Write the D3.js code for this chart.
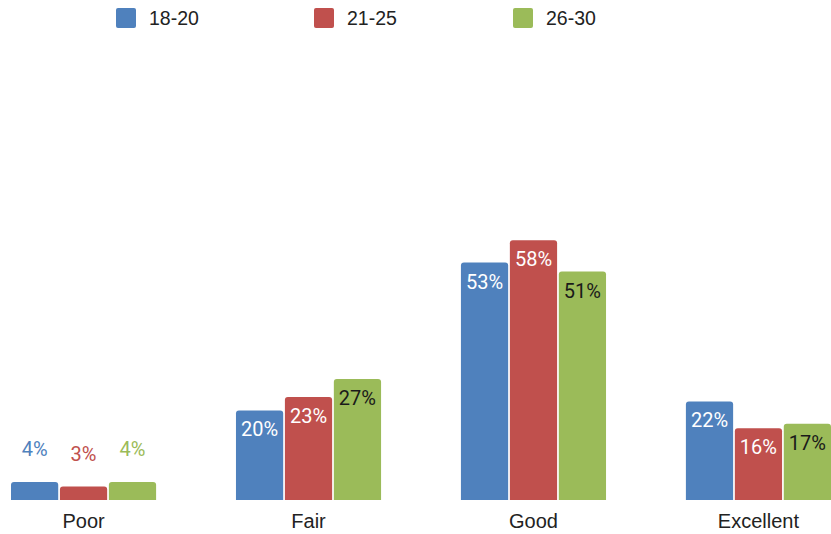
<!DOCTYPE html>
<html>
<head>
<meta charset="utf-8">
<script src="https://cdn.jsdelivr.net/npm/d3@7"></script>
<style>
  html, body { margin: 0; padding: 0; background: #fff; }
  svg { display: block; }
</style>
</head>
<body>
<svg id="chart" width="831" height="534"></svg>
<script>
// Self-rated condition by age group (percent of respondents)
const categories = ["Poor", "Fair", "Good", "Excellent"];
const seriesNames = ["18-20", "21-25", "26-30"];
const seriesColors = ["#4f81bd", "#c0504d", "#9bbb59"];
const insideLabelColors = ["#ffffff", "#ffffff", "#1a1a1a"];
const values1820 = [4, 20, 53, 22];
const values2125 = [3, 23, 58, 16];
const values2630 = [4, 27, 51, 17];
const seriesValues = [values1820, values2125, values2630];

const width = 831, height = 534;
const svg = d3.select("#chart");

const baseline = 500;
const x0 = d3.scaleBand().domain(categories).range([11, 831]).paddingInner(0.355).paddingOuter(0);
const x1 = d3.scaleBand().domain(seriesNames).range([0, x0.bandwidth()]).paddingInner(0.035).paddingOuter(0);
const y = d3.scaleLinear().domain([0, 100]).range([baseline, 52]);

// Bar with rounded top corners
function topRounded(x, yTop, w, h, r) {
  r = Math.min(r, h, w / 2);
  return `M${x},${yTop + h}V${yTop + r}Q${x},${yTop} ${x + r},${yTop}H${x + w - r}Q${x + w},${yTop} ${x + w},${yTop + r}V${yTop + h}Z`;
}

const labelFont = "Roboto, 'Noto Sans', sans-serif";
const axisFont = "'Liberation Sans', Arial, sans-serif";

const groups = svg.append("g").selectAll("g")
  .data(categories)
  .join("g")
  .attr("transform", d => `translate(${x0(d)},0)`);

groups.each(function(cat, ci) {
  const g = d3.select(this);
  seriesNames.forEach((s, si) => {
    const v = seriesValues[si][ci];
    const bx = x1(s), bw = x1.bandwidth();
    const top = y(v);
    g.append("path")
      .attr("d", topRounded(bx, top, bw, baseline - top, 3))
      .attr("fill", seriesColors[si]);
    const inside = v >= 10;
    g.append("text")
      .attr("x", bx + bw / 2)
      .attr("y", inside ? top + 26 : top - 26)
      .attr("text-anchor", "middle")
      .attr("font-family", labelFont)
      .attr("font-size", 20)
      .attr("fill", inside ? insideLabelColors[si] : seriesColors[si])
      .text(v + "%");
  });
});

// Category axis labels
const xAxis = d3.axisBottom(x0).tickSize(0).tickPadding(0);
const axisG = svg.append("g").attr("transform", `translate(0,${baseline})`).call(xAxis);
axisG.select(".domain").remove();
axisG.selectAll("text")
  .attr("y", 28)
  .attr("dy", null)
  .attr("font-family", axisFont)
  .attr("font-size", 20)
  .attr("fill", "#222");

// Legend
const legendX = [116, 314, 513];
const legend = svg.append("g").selectAll("g")
  .data(seriesNames)
  .join("g")
  .attr("transform", (d, i) => `translate(${legendX[i]},8)`);
legend.append("rect")
  .attr("width", 20).attr("height", 20).attr("rx", 2)
  .attr("fill", (d, i) => seriesColors[i]);
legend.append("text")
  .attr("x", 33).attr("y", 17)
  .attr("font-family", axisFont)
  .attr("font-size", 19.5)
  .attr("fill", "#222")
  .text(d => d);
</script>
</body>
</html>
